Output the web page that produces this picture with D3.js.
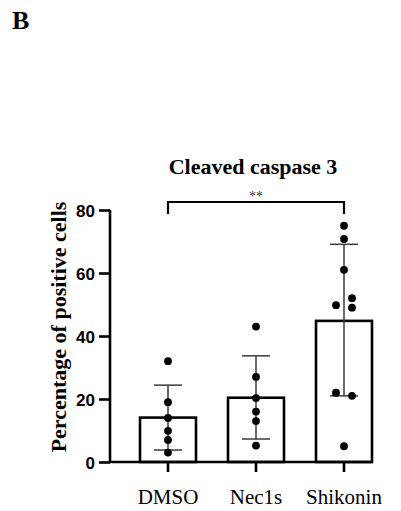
<!DOCTYPE html>
<html>
<head>
<meta charset="utf-8">
<script src="https://cdn.jsdelivr.net/npm/d3@7"></script>
<style>
  html, body { margin: 0; padding: 0; background: #fff; }
  svg { display: block; }
</style>
</head>
<body>
<script>
// ---- data ----
const categories = ["DMSO", "Nec1s", "Shikonin"];
const means = [14.1, 20.4, 44.8];
const sdLow = [3.8, 7.3, 21.0];
const sdHigh = [24.4, 33.7, 69.1];
// individual points: [value, jitter side (-1 left, 0 centre, 1 right)]
const pointsDMSO = [[32, 0], [19, 0], [14, 0], [9.9, 0], [7, 0], [3, 0]];
const pointsNec1s = [[43, 0], [27, 0], [20.3, 0], [16, 0], [13, 0], [5.2, 0]];
const pointsShikonin = [[75, 0], [70.8, 0], [61, 0], [49.8, -1], [52, 1], [49, 1], [22, -1], [21, 1], [5, 0]];
const yTicks = [0, 20, 40, 60, 80];
const title = "Cleaved caspase 3";
const yLabel = "Percentage of positive cells";
const panelLabel = "B";
const sigLabel = "**";
const sigPair = ["DMSO", "Shikonin"];

// ---- drawing ----
const W = 401, H = 511;
const svg = d3.select("body").append("svg").attr("width", W).attr("height", H);

const x = d3.scaleBand().domain(categories).range([124, 388]).paddingInner(32 / 88).paddingOuter(16 / 88);
const y = d3.scaleLinear().domain([0, 80]).range([462, 210]);
const serif = "'Liberation Serif', 'Times New Roman', serif";
const sans = "'Liberation Sans', Arial, sans-serif";

const allPoints = [pointsDMSO, pointsNec1s, pointsShikonin];

// bars
svg.selectAll("rect.bar").data(categories).enter().append("rect")
  .attr("class", "bar")
  .attr("x", d => x(d))
  .attr("y", (d, i) => y(means[i]))
  .attr("width", x.bandwidth())
  .attr("height", (d, i) => y(0) - y(means[i]))
  .attr("fill", "none").attr("stroke", "#000").attr("stroke-width", 2.6);

// error bars
const cx = d => x(d) + x.bandwidth() / 2;
const capW = 14;
const eb = svg.append("g").attr("stroke", "#3a3a3a").attr("stroke-width", 1.5);
categories.forEach((c, i) => {
  eb.append("line").attr("x1", cx(c)).attr("x2", cx(c)).attr("y1", y(sdLow[i])).attr("y2", y(sdHigh[i]));
  eb.append("line").attr("x1", cx(c) - capW).attr("x2", cx(c) + capW).attr("y1", y(sdHigh[i])).attr("y2", y(sdHigh[i]));
  eb.append("line").attr("x1", cx(c) - capW).attr("x2", cx(c) + capW).attr("y1", y(sdLow[i])).attr("y2", y(sdLow[i]));
});

// points
const jitter = 8;
categories.forEach((c, i) => {
  svg.append("g").selectAll("circle").data(allPoints[i]).enter().append("circle")
    .attr("cx", d => cx(c) + d[1] * jitter)
    .attr("cy", d => y(d[0]))
    .attr("r", 3.9)
    .attr("fill", "#000");
});

// y axis
const yAxis = d3.axisLeft(y).tickValues(yTicks).tickSize(11).tickPadding(4);
const gy = svg.append("g").attr("transform", "translate(110,0)").call(yAxis);
gy.select(".domain").attr("stroke", "#000").attr("stroke-width", 2.6).attr("d", `M0,${y(80)}V${y(0)}`);
gy.selectAll(".tick line").attr("stroke", "#000").attr("stroke-width", 2.6);
gy.selectAll(".tick text").attr("font-family", sans).attr("font-weight", "bold").attr("font-size", 17).attr("fill", "#000").attr("dy", "0.36em");

// x axis
const xAxis = d3.axisBottom(x).tickSize(10).tickPadding(17);
const gx = svg.append("g").attr("transform", `translate(0,${y(0)})`).call(xAxis);
gx.select(".domain").attr("stroke", "#000").attr("stroke-width", 2.6).attr("d", `M110,0H${x(categories[2]) + x.bandwidth()}`);
gx.selectAll(".tick line").attr("stroke", "#000").attr("stroke-width", 2.6);
gx.selectAll(".tick text").attr("font-family", serif).attr("font-size", 21).attr("fill", "#000");

// y label
svg.append("text")
  .attr("transform", `translate(66,${(y(80) + y(0)) / 2 - 9}) rotate(-90)`)
  .attr("text-anchor", "middle")
  .attr("font-family", serif).attr("font-weight", "bold").attr("font-size", 22)
  .text(yLabel);

// title
svg.append("text").attr("x", 253).attr("y", 174).attr("text-anchor", "middle")
  .attr("font-family", serif).attr("font-weight", "bold").attr("font-size", 22)
  .text(title);

// panel label
svg.append("text").attr("x", 12).attr("y", 29)
  .attr("font-family", serif).attr("font-weight", "bold").attr("font-size", 26)
  .text(panelLabel);

// significance bracket
const bx1 = cx(sigPair[0]), bx2 = cx(sigPair[1]);
const by = 202;
svg.append("path").attr("d", `M${bx1},${by + 12}V${by}H${bx2}V${by + 12}`)
  .attr("fill", "none").attr("stroke", "#000").attr("stroke-width", 2.2);
svg.append("text").attr("x", (bx1 + bx2) / 2).attr("y", 201).attr("text-anchor", "middle")
  .attr("font-family", serif).attr("font-size", 14).attr("fill", "#333")
  .text(sigLabel);
</script>
</body>
</html>
